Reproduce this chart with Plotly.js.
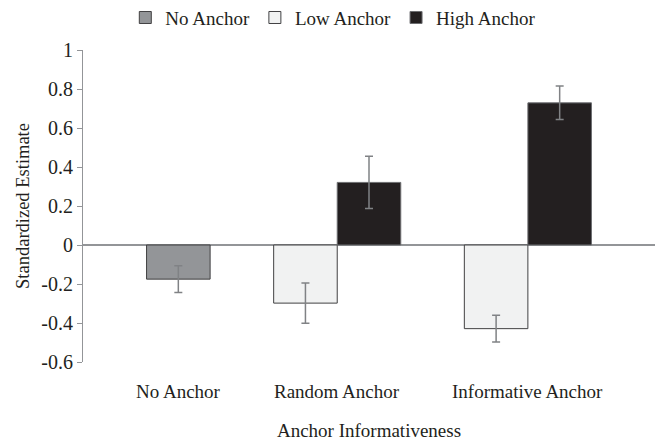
<!DOCTYPE html>
<html>
<head>
<meta charset="utf-8">
<script src="https://cdn.plot.ly/plotly-3.0.1.min.js"></script>
<style>html,body{margin:0;padding:0;background:#fff;}#chart{width:660px;height:441px;}</style>
</head>
<body>
<div id="chart"></div>
<script>
// ---- data ----
const categories = ['No Anchor', 'Random Anchor', 'Informative Anchor'];
const seriesNames = ['No Anchor', 'Low Anchor', 'High Anchor'];
const noAnchorValues = [-0.175, null, null];
const noAnchorErrors = [0.069, null, null];
const lowAnchorValues = [null, -0.298, -0.429];
const lowAnchorErrors = [null, 0.103, 0.069];
const highAnchorValues = [null, 0.321, 0.729];
const highAnchorErrors = [null, 0.134, 0.086];
const yTickValues = [-0.6, -0.4, -0.2, 0, 0.2, 0.4, 0.6, 0.8, 1];
const yTickLabels = ['-0.6', '-0.4', '-0.2', '0', '0.2', '0.4', '0.6', '0.8', '1'];
const xTitle = 'Anchor Informativeness';
const yTitle = 'Standardized Estimate';

// ---- styling ----
const FONT = 'Liberation Serif, Times New Roman, serif';
const TXT = '#231f20';
const AXIS = '#939598';
const ERR = '#808285';
const slotWidth = 1 / 3;
const slotOf = { 'No Anchor': 1, 'Low Anchor': 0, 'High Anchor': 1 };
const fills = { 'No Anchor': '#939598', 'Low Anchor': '#f1f2f2', 'High Anchor': '#231f20' };
const edges = { 'No Anchor': '#414042', 'Low Anchor': '#414042', 'High Anchor': '#6d6e71' };

function barTrace(name, vals, errs) {
  return {
    type: 'bar', name: name, x: categories, y: vals,
    width: slotWidth, offset: -0.5 + slotOf[name] * slotWidth,
    marker: { color: fills[name], line: { color: edges[name], width: 1 } },
    error_y: { type: 'data', array: errs, visible: true, color: ERR, thickness: 1.5, width: 4 },
    hoverinfo: 'x+y+name'
  };
}

const data = [
  barTrace(seriesNames[0], noAnchorValues, noAnchorErrors),
  barTrace(seriesNames[1], lowAnchorValues, lowAnchorErrors),
  barTrace(seriesNames[2], highAnchorValues, highAnchorErrors)
];

// category labels centred under the bars actually drawn in each category
const annotations = categories.map((cat, i) => {
  const centres = [];
  data.forEach(tr => {
    if (tr.y[i] !== null) centres.push(i + tr.offset + tr.width / 2);
  });
  const cx = centres.reduce((a, b) => a + b, 0) / centres.length;
  return {
    text: cat, x: cx, xref: 'x', y: 0, yref: 'paper',
    yanchor: 'middle', yshift: -29, showarrow: false,
    font: { family: FONT, size: 19, color: TXT }
  };
});

const layout = {
  width: 660, height: 441,
  margin: { l: 83, r: 5, t: 50, b: 79 },
  paper_bgcolor: '#fff', plot_bgcolor: '#fff',
  font: { family: FONT, size: 19, color: TXT },
  barmode: 'overlay',
  showlegend: true,
  legend: {
    orientation: 'h', xref: 'container', yref: 'container',
    x: 0.505, xanchor: 'center', y: 0.960, yanchor: 'middle',
    font: { family: FONT, size: 19, color: TXT },
    itemwidth: 30, traceorder: 'normal', itemclick: false
  },
  xaxis: {
    type: 'category', range: [-0.5, 2.5],
    showline: false, showgrid: false, zeroline: false,
    showticklabels: false, ticks: '',
    title: { text: xTitle, font: { family: FONT, size: 19, color: TXT }, standoff: 62 },
    automargin: false
  },
  yaxis: {
    range: [-0.6, 1], tickvals: yTickValues, ticktext: yTickLabels,
    showline: true, linecolor: AXIS, linewidth: 1,
    ticks: 'outside', ticklen: 5, tickcolor: AXIS, tickwidth: 1,
    showgrid: false, zeroline: true, zerolinecolor: AXIS, zerolinewidth: 2,
    tickfont: { family: FONT, size: 20, color: TXT },
    title: { text: yTitle, font: { family: FONT, size: 18.5, color: TXT }, standoff: 6 },
    automargin: false
  },
  annotations: annotations
};

Plotly.newPlot('chart', data, layout, { displayModeBar: false, staticPlot: true });
</script>
</body>
</html>
